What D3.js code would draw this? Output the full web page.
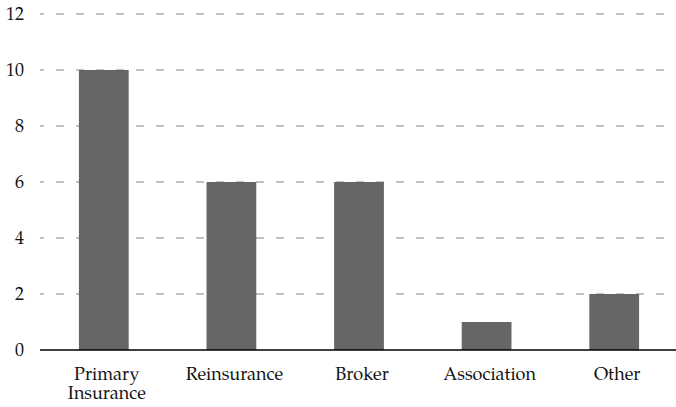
<!DOCTYPE html>
<html>
<head>
<meta charset="utf-8">
<script src="https://cdn.jsdelivr.net/npm/d3@7"></script>
<style>
  html, body { margin: 0; padding: 0; background: #fff; }
</style>
</head>
<body>
<svg id="chart" width="676" height="407"></svg>
<script>
// Organisations by type
const categories = [["Primary", "Insurance"], ["Reinsurance"], ["Broker"], ["Association"], ["Other"]];
const values = [10, 6, 6, 1, 2];
const yTicks = [0, 2, 4, 6, 8, 10, 12];

const FONT = "'TeX Gyre Pagella', 'Liberation Serif', serif";
const FONT_SIZE = 18;

const svg = d3.select("#chart");
const margin = { left: 40, top: 14, bottom: 57 };
const W = 676, H = 407;

const x = d3.scaleBand()
  .domain(categories.map((d, i) => i))
  .range([margin.left, 678])
  .paddingInner(0.61)
  .paddingOuter(0.305);

const y = d3.scaleLinear().domain([0, 12]).range([H - margin.bottom, margin.top]);

// dashed gridlines
svg.append("g")
  .selectAll("line")
  .data(yTicks.filter(t => t > 0))
  .join("line")
  .attr("x1", margin.left)
  .attr("x2", W)
  .attr("y1", d => y(d))
  .attr("y2", d => y(d))
  .attr("stroke", "#858585")
  .attr("stroke-width", 1)
  .attr("stroke-dasharray", "8,12")
  .attr("stroke-dashoffset", 4);

// y tick labels
const yAxis = d3.axisLeft(y).tickValues(yTicks).tickSize(0).tickPadding(0);
const gy = svg.append("g")
  .attr("transform", "translate(24,0)")
  .call(yAxis)
  .attr("font-family", FONT)
  .attr("font-size", FONT_SIZE);
gy.select(".domain").remove();
gy.selectAll("text").attr("fill", "#111");

// bars
svg.append("g")
  .selectAll("rect")
  .data(values)
  .join("rect")
  .attr("x", (d, i) => x(i))
  .attr("y", d => y(d))
  .attr("width", x.bandwidth())
  .attr("height", d => y(0) - y(d))
  .attr("fill", "#666666");

// baseline
svg.append("line")
  .attr("x1", margin.left).attr("x2", W)
  .attr("y1", y(0)).attr("y2", y(0))
  .attr("stroke", "#000").attr("stroke-width", 1.3);

// category labels
const xl = svg.append("g")
  .attr("font-family", FONT)
  .attr("font-size", FONT_SIZE)
  .selectAll("text")
  .data(categories)
  .join("text")
  .attr("x", (d, i) => x(i) + x.bandwidth() / 2 + 3)
  .attr("y", y(0) + 30)
  .attr("text-anchor", "middle")
  .attr("fill", "#111");
xl.selectAll("tspan")
  .data(d => d)
  .join("tspan")
  .attr("x", function () { return this.parentNode.getAttribute("x"); })
  .attr("dy", (d, i) => i === 0 ? 0 : 19)
  .text(d => d);
</script>
</body>
</html>
